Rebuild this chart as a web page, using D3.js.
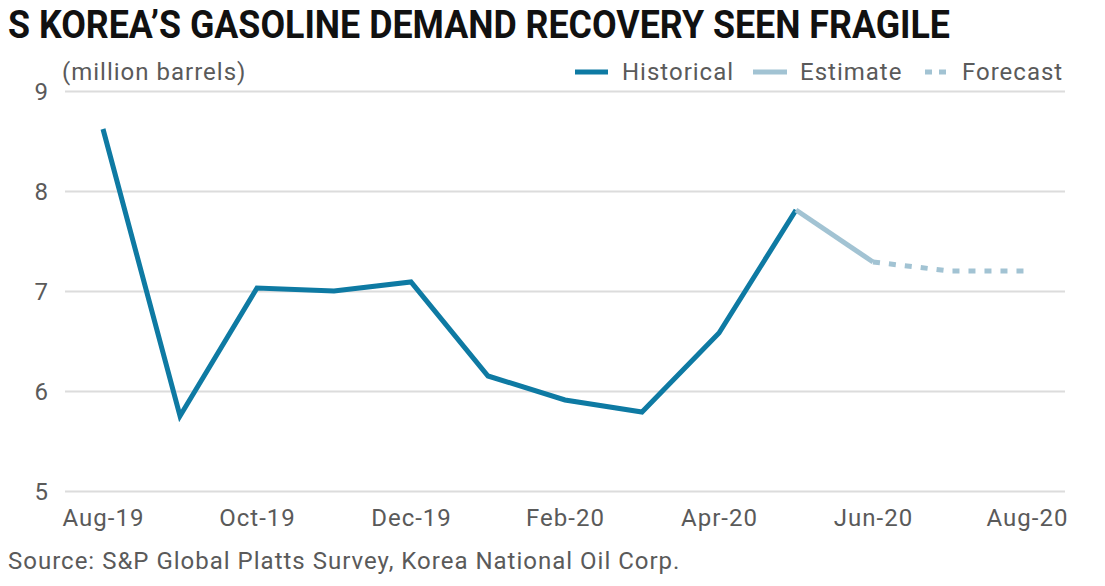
<!DOCTYPE html>
<html><head><meta charset="utf-8">
<script src="https://cdn.jsdelivr.net/npm/d3@7"></script>
<style>body{margin:0;background:#fff}svg{display:block}</style>
</head><body>
<svg id="c" width="1105" height="586"></svg>
<script>
const months = ["Aug-19","Sep-19","Oct-19","Nov-19","Dec-19","Jan-20","Feb-20","Mar-20","Apr-20","May-20","Jun-20","Jul-20","Aug-20"];
const historical = [8.62,5.75,7.03,7.00,7.09,6.15,5.91,5.79,6.58,7.81,null,null,null];
const estimate = [null,null,null,null,null,null,null,null,null,7.81,7.29,null,null];
const forecast = [null,null,null,null,null,null,null,null,null,null,7.29,7.20,7.20];
const xTickLabels = ["Aug-19","Oct-19","Dec-19","Feb-20","Apr-20","Jun-20","Aug-20"];
const yTicks = [5,6,7,8,9];
const legendItems = ["Historical","Estimate","Forecast"];

const svg = d3.select("#c");
const font = "Roboto, 'Noto Sans', sans-serif";
const textCol = "#5a5a5a";
const colHist = "#0e7aa3", colEst = "#a2c3d3";
const ls = "1px";

const x = d3.scalePoint().domain(months).range([103, 1027]);
const y = d3.scaleLinear().domain([5,9]).range([491, 91]);

// title
svg.append("text").attr("x",8).attr("y",38).attr("font-family",font).attr("font-weight",700)
  .attr("font-size",38).attr("fill","#111").attr("textLength",942).attr("lengthAdjust","spacingAndGlyphs")
  .text("S KOREA\u2019S GASOLINE DEMAND RECOVERY SEEN FRAGILE");

// grid
const yAxis = d3.axisLeft(y).tickValues(yTicks).tickSize(-1000).tickFormat(d3.format("d"));
const gy = svg.append("g").attr("transform","translate(65,0)").call(yAxis);
gy.select(".domain").remove();
gy.selectAll(".tick line").attr("stroke","#dcdcdc").attr("stroke-width",2);
gy.selectAll(".tick text").attr("font-family",font).attr("font-size",24).attr("fill",textCol)
  .attr("x",-17).attr("dy","0.36em");

const xAxis = d3.axisBottom(x).tickValues(xTickLabels).tickSize(0);
const gx = svg.append("g").attr("transform","translate(0,491)").call(xAxis);
gx.select(".domain").remove();
gx.selectAll(".tick text").attr("font-family",font).attr("font-size",24).attr("fill",textCol)
  .attr("letter-spacing",ls).attr("dy",0).attr("y",35);

// units
svg.append("text").attr("x",62).attr("y",80).attr("font-family",font).attr("font-size",24).attr("fill",textCol)
  .attr("letter-spacing",ls).text("(million barrels)");

const line = d3.line().defined(d=>d!=null).x((d,i)=>x(months[i])).y(d=>y(d));
svg.append("path").datum(historical).attr("d",line).attr("fill","none").attr("stroke",colHist).attr("stroke-width",5).attr("stroke-linejoin","miter");
svg.append("path").datum(estimate).attr("d",line).attr("fill","none").attr("stroke",colEst).attr("stroke-width",5);
svg.append("path").datum(forecast).attr("d",line).attr("fill","none").attr("stroke",colEst).attr("stroke-width",5).attr("stroke-dasharray","7,9");

// legend
const lg = [
  {lx:575, tx:622, col:colHist, dash:null, w:33},
  {lx:753, tx:800, col:colEst, dash:null, w:34},
  {lx:925, tx:962, col:colEst, dash:"7,7", w:27}
];
legendItems.forEach((name,i)=>{
  const L = lg[i];
  svg.append("line").attr("x1",L.lx).attr("x2",L.lx+L.w).attr("y1",72).attr("y2",72)
    .attr("stroke",L.col).attr("stroke-width",5).attr("stroke-dasharray",L.dash);
  svg.append("text").attr("x",L.tx).attr("y",80).attr("font-family",font).attr("font-size",24).attr("fill",textCol)
    .attr("letter-spacing",ls).text(name);
});

svg.append("text").attr("x",8).attr("y",569).attr("font-family",font).attr("font-size",24).attr("fill",textCol)
  .attr("letter-spacing",ls).text("Source: S&P Global Platts Survey, Korea National Oil Corp.");
</script>
</body></html>
